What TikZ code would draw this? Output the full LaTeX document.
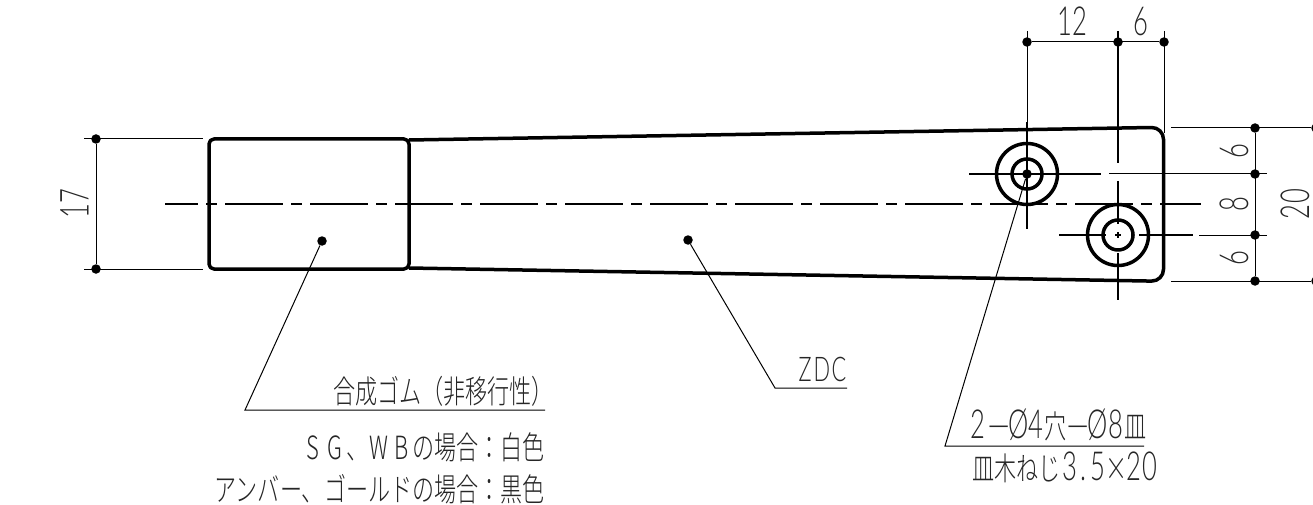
\documentclass[tikz,border=0pt]{standalone}
\usepackage{fontspec}
\setmainfont{Liberation Sans}
\newfontfamily\cadfont[FakeStretch=0.64]{Lato Light}
\IfFontExistsTF{Noto Sans CJK JP Light}
  {\newfontfamily\cjk[FakeStretch=0.69]{Noto Sans CJK JP Light}}
  {\newfontfamily\cjk[FakeStretch=0.69]{Noto Sans CJK JP}}
\newcommand{\cell}[2]{\makebox[#1pt]{#2}}
\newcommand{\digit}[2]{\makebox[#1pt]{\cadfont\fontsize{40}{40}\selectfont #2}}
\newcommand{\longdash}{\makebox[22pt]{\scalebox{1.8}[1]{−}}}

\begin{document}
\begin{tikzpicture}[x=1pt,y=-1pt]

    %
    % Styles for outlines, centre lines and dimensions
    %
    \tikzstyle{outline} = [line width=3.5pt, line join=round];
    \tikzstyle{centreLine} = [line width=2.5pt];
    \tikzstyle{dimLine} = [line width=1pt];
    \tikzstyle{dimDot} = [circle, fill=black, inner sep=0pt, minimum size=9.5pt];
    \tikzstyle{dimLabel} = [inner sep=0pt, text=black!85, font={\cadfont\fontsize{40}{40}\selectfont}];
    \tikzstyle{noteLabel} = [inner sep=0pt, text=black!85, font={\cjk\fontsize{32}{32}\selectfont}];

    \useasboundingbox (0,0) rectangle (1313,505);

    %
    % Position dimension points
    %
    \node[dimDot, name=dotA] at (96,139) {};
    \node[dimDot, name=dotB] at (96,269) {};
    \node[dimDot, name=topA] at (1027,42) {};
    \node[dimDot, name=topB] at (1118,42) {};
    \node[dimDot, name=topC] at (1164,42) {};
    \node[dimDot, name=sideA] at (1255,128) {};
    \node[dimDot, name=sideB] at (1255,174) {};
    \node[dimDot, name=sideC] at (1255,235) {};
    \node[dimDot, name=sideD] at (1255,281) {};
    \node[dimDot, name=farA] at (1316,128) {};
    \node[dimDot, name=farB] at (1316,281) {};
    \node[dimDot, name=holeA] at (1027,174) {};
    \node[dimDot, name=rubberDot] at (322,241) {};
    \node[dimDot, name=bodyDot] at (688,240) {};

    %
    % Body and rubber
    %
    \draw[outline, rounded corners=12pt] (409,140) -- (1163.5,127.3) -- (1163.5,281.3) -- (409,268);
    \draw[outline, rounded corners=5pt] (209,139) rectangle (409,269);

    %
    % Holes
    %
    \draw[outline] (1027,174) circle (30.5) (1027,174) circle (15);
    \draw[outline] (1118,235) circle (30.5) (1118,235) circle (15);

    %
    % Centre lines
    %
    \draw[centreLine, dash pattern=on 58pt off 8pt on 11pt off 8pt, dash phase=25pt] (165,204) -- (1201,204);
    \draw[centreLine] (969,174) -- (1101,174);
    \draw[centreLine] (1027,122) -- (1027,229);
    \draw[centreLine] (1059,235) -- (1106,235) (1115,235) -- (1121,235) (1139,235) -- (1193,235);
    \draw[centreLine] (1118,181) -- (1118,224) (1118,232) -- (1118,238) (1118,253) -- (1118,300);

    %
    % Dimension and leader lines
    %
    \draw[dimLine] (84,139) -- (203,139);
    \draw[dimLine] (84,269) -- (203,269);
    \draw[dimLine] (dotA) -- (dotB);
    \draw[dimLine] (topA) -- (topC);
    \draw[dimLine] (1027,31) -- (1027,122);
    \draw[dimLine, line width=1.1pt] (1118,31) -- (1118,163);
    \draw[dimLine] (1164,31) -- (1164,133);
    \draw[dimLine] (sideA) -- (sideD);
    \draw[dimLine] (1171,128) -- (farA);
    \draw[dimLine] (1171,281) -- (farB);
    \draw[dimLine] (1109,174) -- (1267,174);
    \draw[dimLine] (1199,235) -- (1267,235);

    \draw[dimLine] (rubberDot) -- (245,410) -- (545,410);
    \draw[dimLine] (bodyDot) -- (775,388) -- (847,388);
    \draw[dimLine] (holeA) -- (945,446) -- (1144,446);

    %
    % Labels
    %
    \node[dimLabel, name=dimTwelve] at (1072,21.5) {\cell{15}{1}\cell{15}{2}};
    \node[dimLabel, name=dimSixTop] at (1141,21.5) {6};
    \node[dimLabel, name=dimSeventeen, rotate=90] at (74.5,204) {\cell{15}{1}\cell{15}{7}};
    \node[dimLabel, name=dimSixA, rotate=90] at (1234,151) {6};
    \node[dimLabel, name=dimEight, rotate=90] at (1234,204) {8};
    \node[dimLabel, name=dimSixB, rotate=90] at (1234,258.5) {6};
    \node[dimLabel, name=dimTwenty, rotate=90] at (1295,204) {\cell{16}{2}\cell{16}{0}};

    \node[noteLabel, name=rubberName, anchor=east] at (554,391) {合成ゴム（非移行性）};
    \node[noteLabel, name=rubberWhite, anchor=east] at (545,447) {\cell{22}{S}\cell{22}{G}、\cell{22}{W}\cell{22}{B}の場合：白色};
    \node[noteLabel, name=rubberBlack, anchor=east] at (545,489) {アンバー、ゴールドの場合：黒色};
    \node[dimLabel, name=bodyName, font={\cadfont\fontsize{34}{34}\selectfont}] at (822,369) {\cell{17}{Z}\cell{17}{D}\cell{17}{C}};
    \node[noteLabel, name=holeNote, anchor=east] at (1147,425) {\digit{19}{2}\longdash\digit{18}{Ø}\digit{17}{4}穴\longdash\digit{18}{Ø}\digit{18}{8}皿};
    \node[noteLabel, name=screwNote, anchor=east] at (1158,467) {皿木ねじ\digit{19}{3}\digit{8}{.}\digit{20}{5}\cell{18}{×}\digit{17}{2}\digit{15}{0}};

\end{tikzpicture}
\end{document}
